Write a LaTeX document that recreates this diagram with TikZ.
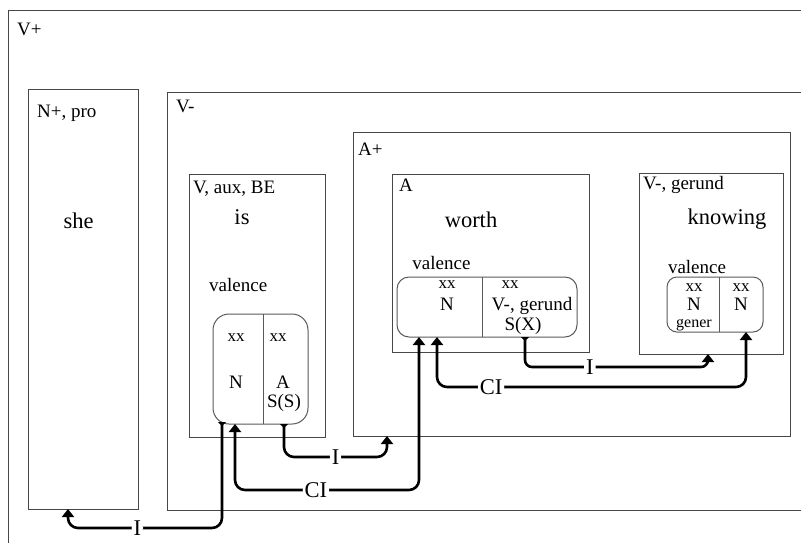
\documentclass[tikz,border=0pt]{standalone}
\usepackage{fontspec}
\setmainfont{Liberation Serif}
\newfontfamily\tms{Liberation Serif}
\usetikzlibrary{arrows.meta}
\begin{document}
\begin{tikzpicture}[x=1pt,y=-1pt,
  box/.style={draw=black!72,line width=1pt,inner sep=0pt,outer sep=0pt,anchor=north west},
  vbox/.style={box,draw=black!65},
  lab/.style={inner sep=0pt,anchor=base west,font=\tms\fontsize{19}{20}\selectfont},
  labc/.style={lab,anchor=base},
  small/.style={labc,font=\tms\fontsize{17}{18}\selectfont},
  big/.style={inner sep=0pt,anchor=base,font=\tms\fontsize{22.5}{24}\selectfont},
  conn/.style={line width=2.6pt,rounded corners=10pt},
  lbl/.style={fill=white,inner sep=2pt,font=\tms\fontsize{22.5}{24}\selectfont},
  itail/.style={arrows={Triangle[reversed,width=8pt,length=4pt]-Triangle[width=12pt,length=8pt]}},
  cboth/.style={arrows={Triangle[width=12pt,length=8pt]-Triangle[width=12pt,length=8pt]}}]
\useasboundingbox (0,0) rectangle (801,542);
\clip (0,0) rectangle (801,542);
% boxes
\node[box,minimum width=830,minimum height=560] (vplus) at (8,10) {};
\node[box,minimum width=110,minimum height=420] (npro) at (28,89) {};
\node[box,minimum width=700,minimum height=418] (vminus) at (167,92) {};
\node[box,minimum width=437,minimum height=304] (aplus) at (353,132) {};
\node[box,minimum width=136,minimum height=263] (vaux) at (189,174) {};
\node[box,minimum width=197,minimum height=178] (abox) at (392,174) {};
\node[box,minimum width=144,minimum height=181] (vger) at (639,173) {};
% valence boxes
\node[vbox,rounded corners=16pt,minimum width=95,minimum height=110] (isv) at (213,314) {};
\node[vbox,rounded corners=12pt,minimum width=180,minimum height=60] (worthv) at (397,277) {};
\node[vbox,rounded corners=10pt,minimum width=96,minimum height=55] (knowv) at (667,277) {};
\draw[black!65,line width=1pt] (263,314) -- (263,424);
\draw[black!65,line width=1pt] (482,277) -- (482,337);
\draw[black!65,line width=1pt] (719,277) -- (719,332);
% texts
\node[lab] (tvplus) at (17,35) {V+};
\node[lab] (tnpro) at (37,117) {N+, pro};
\node[big] (tshe) at (78.5,228) {she};
\node[lab] (tvminus) at (176,112) {V-};
\node[lab] (taplus) at (358,155) {A+};
\node[lab] (tvaux) at (193,193) {V, aux, BE};
\node[big] (tis) at (242,224) {is};
\node[lab] (tval1) at (209,291) {valence};
\node[small] (tx1) at (236,341) {xx};
\node[small] (tx2) at (278,341) {xx};
\node[labc] (tn1) at (236,388) {N};
\node[labc] (ta1) at (283,388) {A};
\node[labc] (tss) at (284,407) {S(S)};
\node[lab] (tabox) at (399,191) {A};
\node[big] (tworth) at (471,227) {worth};
\node[labc] (tval2) at (441.5,269) {valence};
\node[small] (tx3) at (447,288) {xx};
\node[small] (tx4) at (510,288) {xx};
\node[labc] (tn2) at (447,310) {N};
\node[labc] (tvg2) at (532,310) {V-, gerund};
\node[labc] (tsx) at (523,330) {S(X)};
\node[lab] (tvger) at (643,189) {V-, gerund};
\node[big] (tknow) at (727,224) {knowing};
\node[labc] (tval3) at (697,273) {valence};
\node[small] (tx5) at (694,291) {xx};
\node[small] (tx6) at (741,291) {xx};
\node[labc] (tn3) at (694,310) {N};
\node[labc] (tn4) at (741,310) {N};
\node[labc,font=\tms\fontsize{16}{17}\selectfont] (tgen) at (694,327) {gener};
% connector end points
\coordinate (isvN) at (222,422);
\coordinate (isvN2) at (235,424);
\coordinate (isvA) at (284,424);
\coordinate (apB) at (387,436);
\coordinate (nproB) at (68,509);
\coordinate (worthvL) at (419,337);
\coordinate (worthvN) at (437,337);
\coordinate (worthvX) at (525,337);
\coordinate (vgerB) at (708,354);
\coordinate (knowvN) at (746,332);
\coordinate (yI1) at (0,528);
\coordinate (yCI1) at (0,490);
\coordinate (yI2) at (0,457);
\coordinate (yI3) at (0,367);
\coordinate (yCI2) at (0,387);
% connectors
\draw[conn,itail] (isvN) -- (isvN |- yI1) -- node[lbl,pos=0.55] (li1) {I} (nproB |- yI1) -- (nproB);
\draw[conn,cboth] (isvN2) -- (isvN2 |- yCI1) -- node[lbl,pos=0.44] (lci1) {CI} (worthvL |- yCI1) -- (worthvL);
\draw[conn,itail] (isvA) -- (isvA |- yI2) -- node[lbl,pos=0.5] (li2) {I} (apB |- yI2) -- (apB);
\draw[conn,itail,rounded corners=7pt] (worthvX) -- (worthvX |- yI3) -- node[lbl,pos=0.355] (li3) {I} (vgerB |- yI3) -- (vgerB);
\draw[conn,cboth] (worthvN) -- (worthvN |- yCI2) -- node[lbl,pos=0.175] (lci2) {CI} (knowvN |- yCI2) -- (knowvN);
\end{tikzpicture}
\end{document}
